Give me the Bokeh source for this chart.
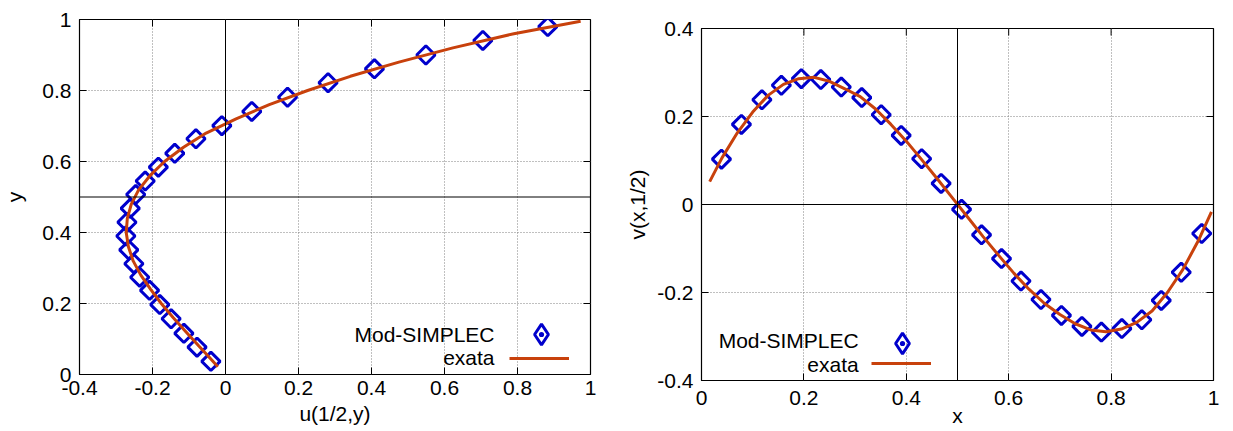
import numpy as np
from bokeh.plotting import figure
from bokeh.models import (Range1d, FixedTicker, Span, Label, Legend, LegendItem)
from bokeh.core.properties import value
from bokeh.embed import file_html
from bokeh.resources import INLINE

# ---------------- data: left panel u(1/2, y) ----------------
y_num = [0.037, 0.077, 0.116, 0.157, 0.197, 0.237, 0.274, 0.312, 0.351, 0.390,
         0.429, 0.468, 0.507, 0.545, 0.584, 0.623, 0.664, 0.701, 0.741, 0.781,
         0.822, 0.861, 0.900, 0.941, 0.980]
u_num = [-0.040, -0.078, -0.114, -0.149, -0.180, -0.208, -0.235, -0.251, -0.265, -0.273,
         -0.270, -0.261, -0.246, -0.220, -0.184, -0.139, -0.081, -0.010, 0.072, 0.170,
         0.281, 0.408, 0.549, 0.705, 0.883]
y_exact = [0.022, 0.04, 0.08, 0.12, 0.16, 0.20, 0.24, 0.28, 0.32, 0.36, 0.40, 0.44, 0.48,
           0.52, 0.56, 0.60, 0.64, 0.68, 0.72, 0.76, 0.80, 0.84, 0.88, 0.92, 0.96, 0.995]
u_exact = [-0.021, -0.037, -0.073, -0.108, -0.143, -0.176, -0.205, -0.232, -0.253, -0.266,
           -0.272, -0.269, -0.258, -0.238, -0.207, -0.167, -0.115, -0.053, 0.029, 0.120,
           0.225, 0.342, 0.475, 0.623, 0.790, 0.973]

# ---------------- data: right panel v(x, 1/2) ----------------
x_num = [0.039, 0.078, 0.118, 0.156, 0.195, 0.233, 0.273, 0.313, 0.351, 0.390,
         0.430, 0.468, 0.508, 0.547, 0.586, 0.624, 0.663, 0.703, 0.743, 0.781,
         0.821, 0.860, 0.898, 0.937, 0.977]
v_num = [0.103, 0.182, 0.238, 0.271, 0.286, 0.284, 0.267, 0.243, 0.204, 0.157,
         0.104, 0.048, -0.011, -0.069, -0.123, -0.174, -0.216, -0.252, -0.277, -0.290,
         -0.282, -0.262, -0.218, -0.154, -0.066]
x_exact = [0.016, 0.04, 0.07, 0.10, 0.13, 0.16, 0.19, 0.22, 0.25, 0.28, 0.31, 0.34, 0.37,
           0.40, 0.43, 0.46, 0.49, 0.52, 0.55, 0.58, 0.61, 0.64, 0.67, 0.70, 0.73, 0.76,
           0.79, 0.82, 0.85, 0.88, 0.91, 0.94, 0.97, 0.996]
v_exact = [0.052, 0.106, 0.163, 0.210, 0.248, 0.273, 0.286, 0.289, 0.280, 0.263, 0.245,
           0.217, 0.182, 0.144, 0.102, 0.059, 0.015, -0.029, -0.073, -0.115, -0.156,
           -0.193, -0.225, -0.250, -0.271, -0.285, -0.289, -0.283, -0.268, -0.242,
           -0.200, -0.148, -0.083, -0.017]

# ---------------- ticks / labels ----------------
left_xticks = [-0.4, -0.2, 0, 0.2, 0.4, 0.6, 0.8, 1]
left_xlabels = ["-0.4", "-0.2", "0", "0.2", "0.4", "0.6", "0.8", "1"]
left_yticks = [0, 0.2, 0.4, 0.6, 0.8, 1]
left_ylabels = ["0", "0.2", "0.4", "0.6", "0.8", "1"]
right_xticks = [0, 0.2, 0.4, 0.6, 0.8, 1]
right_xlabels = ["0", "0.2", "0.4", "0.6", "0.8", "1"]
right_yticks = [-0.4, -0.2, 0, 0.2, 0.4]
right_ylabels = ["-0.4", "-0.2", "0", "0.2", "0.4"]

left_zero_x, left_mid_y = 0, 0.5
right_mid_x, right_zero_y = 0.5, 0

series_names = ["Mod-SIMPLEC", "exata"]
left_titles = ["u(1/2,y)", "y"]
right_titles = ["x", "v(x,1/2)"]

FONT = "Liberation Sans"
FS = "21px"
BLUE = "#0000cc"
ORANGE = "#c8410c"
TICK_PX = 7

# two independent roots laid side by side (no frame alignment between them)
PAGE_TEMPLATE = """{% block postamble %}<style>
html, body { margin: 0 !important; padding: 0 !important; }
body { display: flex !important; flex-direction: row; align-items: flex-start; }
</style>{% endblock %}"""


def style_axes(p, xt, xl, yt, yl, titles, xstand, ystand, xls, yls, fw, fh):
    xr, yr = p.x_range, p.y_range
    p.xaxis.ticker = FixedTicker(ticks=xt)
    p.yaxis.ticker = FixedTicker(ticks=yt)
    p.xaxis.major_label_overrides = {t: l for t, l in zip(xt, xl)}
    p.yaxis.major_label_overrides = {t: l for t, l in zip(yt, yl)}
    p.xaxis.axis_label = titles[0]
    p.yaxis.axis_label = titles[1]
    for ax in (p.xaxis[0], p.yaxis[0]):
        ax.major_label_text_font = FONT
        ax.major_label_text_font_size = FS
        ax.major_label_text_color = "black"
        ax.axis_label_text_font = FONT
        ax.axis_label_text_font_size = FS
        ax.axis_label_text_font_style = "normal"
        ax.axis_label_text_color = "black"
        ax.major_tick_in = TICK_PX
        ax.major_tick_out = 0
        ax.major_tick_line_color = "black"
        ax.minor_tick_line_color = None
        ax.axis_line_color = None
    p.xaxis.major_label_standoff = xstand
    p.yaxis.major_label_standoff = ystand
    p.xaxis.axis_label_standoff = xls
    p.yaxis.axis_label_standoff = yls
    # mirror ticks on top and right edges (gnuplot style)
    dy = TICK_PX * (yr.end - yr.start) / fh
    dx = TICK_PX * (xr.end - xr.start) / fw
    p.segment(x0=xt, x1=xt, y0=[yr.end] * len(xt), y1=[yr.end - dy] * len(xt),
              line_color="black", line_width=1)
    p.segment(x0=[xr.end] * len(yt), x1=[xr.end - dx] * len(yt), y0=yt, y1=yt,
              line_color="black", line_width=1)
    p.grid.grid_line_color = "#808080"
    p.grid.grid_line_dash = "1 2"
    p.grid.grid_line_width = 1
    p.outline_line_color = "black"
    p.outline_line_width = 1.2
    p.outline_line_alpha = 1


def legend_piece(renderer, loc, gw, gh):
    return Legend(items=[LegendItem(label=value(""), renderers=[renderer])], location=loc,
                  glyph_width=gw, glyph_height=gh, padding=0, margin=0, spacing=0,
                  label_width=0, label_height=0, label_standoff=0,
                  border_line_color=None, background_fill_alpha=0)


def text(p, x, y, s):
    p.add_layout(Label(x=x, y=y, text=s, text_align="right", text_baseline="alphabetic",
                       text_font=FONT, text_font_size=FS, text_color="black"))


# ---------------- left figure ----------------
p1 = figure(width=620, height=431, output_backend="svg", toolbar_location=None,
            x_range=Range1d(-0.4, 1), y_range=Range1d(0, 1),
            min_border_left=74, min_border_right=30, min_border_top=19, min_border_bottom=57)
style_axes(p1, left_xticks, left_xlabels, left_yticks, left_ylabels, left_titles,
           6, 8, 4, 13, 516.5, 355)
p1.add_layout(Span(location=left_zero_x, dimension="height", line_color="black", line_width=1))
p1.add_layout(Span(location=left_mid_y, dimension="width", line_color="black", line_width=1))
r1m = p1.scatter(u_num, y_num, marker="square", angle=np.pi / 4, size=13,
                 fill_color=None, line_color=BLUE, line_width=3)
r1l = p1.line(u_exact, y_exact, line_color=ORANGE, line_width=3)
r1leg = p1.scatter(u_num, y_num, marker="diamond_dot", size=13,
                   fill_color=None, line_color=BLUE, line_width=3, visible=False)

text(p1, 0.737, 0.114, series_names[0])
text(p1, 0.737, 0.049, series_names[1])
p1.add_layout(legend_piece(r1leg, (436, 14), 52, 52))
p1.add_layout(legend_piece(r1l, (430, 6), 60, 20))

# ---------------- right figure ----------------
p2 = figure(width=613, height=431, output_backend="svg", toolbar_location=None,
            x_range=Range1d(0, 1), y_range=Range1d(-0.4, 0.4),
            min_border_left=81, min_border_right=20, min_border_top=28, min_border_bottom=51)
style_axes(p2, right_xticks, right_xlabels, right_yticks, right_ylabels, right_titles,
           10, 8, -4, 5, 512, 352)
p2.add_layout(Span(location=right_mid_x, dimension="height", line_color="black", line_width=1))
p2.add_layout(Span(location=right_zero_y, dimension="width", line_color="black", line_width=1))
r2m = p2.scatter(x_num, v_num, marker="square", angle=np.pi / 4, size=13,
                 fill_color=None, line_color=BLUE, line_width=3)
r2l = p2.line(x_exact, v_exact, line_color=ORANGE, line_width=3)
r2leg = p2.scatter(x_num, v_num, marker="diamond_dot", size=13,
                   fill_color=None, line_color=BLUE, line_width=3, visible=False)

text(p2, 0.307, -0.309, series_names[0])
text(p2, 0.307, -0.3627, series_names[1])
p2.add_layout(legend_piece(r2leg, (175, 11), 52, 52))
p2.add_layout(legend_piece(r2l, (170, 7), 60, 20))

open("out.html", "w").write(file_html([p1, p2], INLINE, template=PAGE_TEMPLATE))
